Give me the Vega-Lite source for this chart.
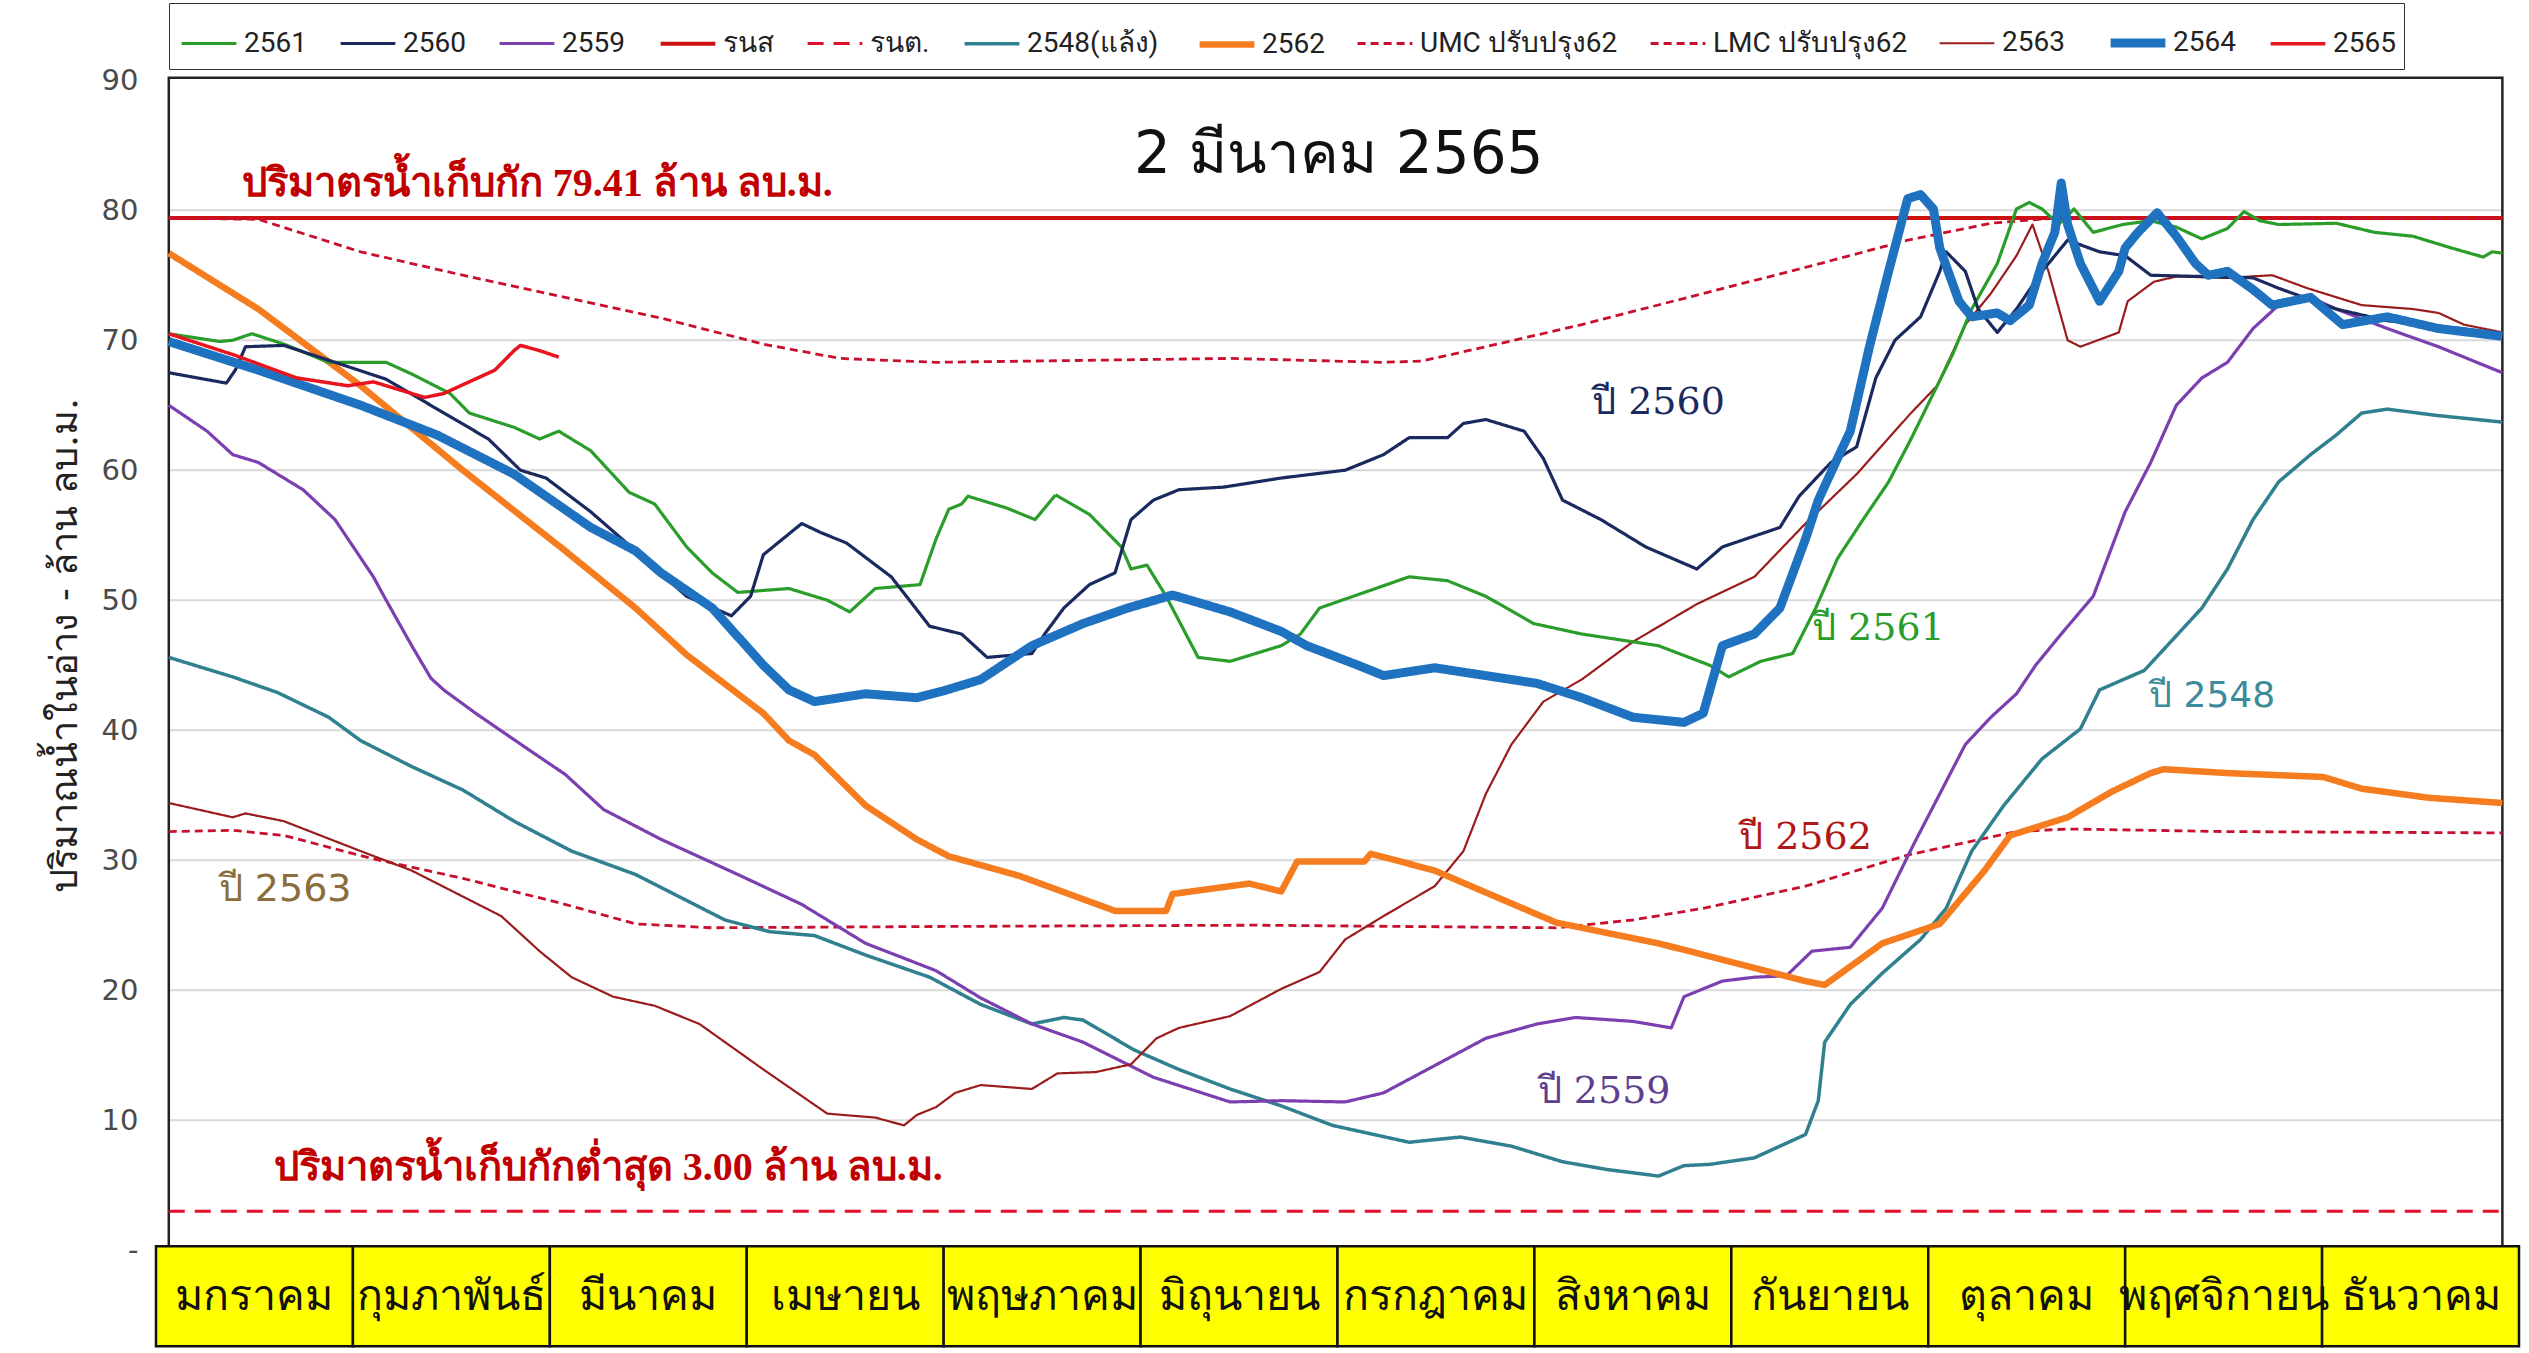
{
  "$schema": "https://vega.github.io/schema/vega-lite/v6.json",
  "width": 2363,
  "height": 1270,
  "autosize": {"type": "none"},
  "padding": {"left": 156, "top": 77, "right": 10, "bottom": 6},
  "background": "white",
  "config": {"view": {"stroke": null}},
  "resolve": {"scale": {"x": "independent"}},
  "layer": [
    {
      "layer": [
        {
          "data": {"values": [{"v": 10}, {"v": 20}, {"v": 30}, {"v": 40}, {"v": 50}, {"v": 60}, {"v": 70}, {"v": 80}]},
          "mark": {"type": "rule", "color": "#d9d9d9", "strokeWidth": 2},
          "encoding": {
            "x": {"datum": 0, "type": "quantitative", "scale": {"domain": [-2, 367.6], "nice": false, "zero": false}, "axis": null},
            "x2": {"datum": 365},
            "y": {"field": "v", "type": "quantitative", "scale": {"domain": [-7.45, 90.25], "nice": false, "zero": false},
              "axis": {"title": "ปริมาณน้ำในอ่าง - ล้าน ลบ.ม.", "values": [0, 10, 20, 30, 40, 50, 60, 70, 80, 90],
                "labelExpr": "datum.value == 0 ? '-' : datum.label", "grid": false, "domain": false, "ticks": false,
                "labelPadding": 18, "labelFont": "DejaVu Sans", "labelFontSize": 29, "labelColor": "#4a4a4a",
                "titleFont": "DejaVu Serif", "titleFontSize": 38, "titleFontWeight": "normal", "titleColor": "#222222",
                "titleX": -91, "titleY": 568, "titleAngle": -90, "titleAlign": "center", "titleBaseline": "middle"}}
          }
        },
        {
          "data": {"values": [{}]},
          "mark": {"type": "rect", "filled": false, "stroke": "#222222", "strokeWidth": 2.5},
          "encoding": {
            "x": {"datum": 0, "type": "quantitative"},
            "x2": {"datum": 365},
            "y": {"datum": 0.3, "type": "quantitative"},
            "y2": {"datum": 90.2}
          }
        },
        {
          "data": {"values": [
            {"s": "รนส", "d": 0, "v": 79.41}, {"s": "รนส", "d": 365, "v": 79.41},
            {"s": "รนต.", "d": 0, "v": 3}, {"s": "รนต.", "d": 365, "v": 3},
            {"s": "UMC ปรับปรุง62", "d": 0, "v": 79.4}, {"s": "UMC ปรับปรุง62", "d": 14, "v": 79.3}, {"s": "UMC ปรับปรุง62", "d": 30, "v": 76.8}, {"s": "UMC ปรับปรุง62", "d": 46, "v": 75.0}, {"s": "UMC ปรับปรุง62", "d": 62, "v": 73.3}, {"s": "UMC ปรับปรุง62", "d": 77, "v": 71.7}, {"s": "UMC ปรับปรุง62", "d": 93, "v": 69.7}, {"s": "UMC ปรับปรุง62", "d": 105, "v": 68.6}, {"s": "UMC ปรับปรุง62", "d": 120, "v": 68.3}, {"s": "UMC ปรับปรุง62", "d": 166, "v": 68.6}, {"s": "UMC ปรับปรุง62", "d": 190, "v": 68.3}, {"s": "UMC ปรับปรุง62", "d": 196, "v": 68.4}, {"s": "UMC ปรับปรุง62", "d": 206, "v": 69.5}, {"s": "UMC ปรับปรุง62", "d": 221, "v": 71.2}, {"s": "UMC ปรับปรุง62", "d": 240, "v": 73.6}, {"s": "UMC ปรับปรุง62", "d": 256, "v": 75.6}, {"s": "UMC ปรับปรุง62", "d": 272, "v": 77.7}, {"s": "UMC ปรับปรุง62", "d": 285, "v": 79.0}, {"s": "UMC ปรับปรุง62", "d": 295, "v": 79.4}, {"s": "UMC ปรับปรุง62", "d": 365, "v": 79.4},
            {"s": "LMC ปรับปรุง62", "d": 0, "v": 32.2}, {"s": "LMC ปรับปรุง62", "d": 10, "v": 32.3}, {"s": "LMC ปรับปรุง62", "d": 18, "v": 31.9}, {"s": "LMC ปรับปรุง62", "d": 32, "v": 30.1}, {"s": "LMC ปรับปรุง62", "d": 46, "v": 28.6}, {"s": "LMC ปรับปรุง62", "d": 62, "v": 26.6}, {"s": "LMC ปรับปรุง62", "d": 73, "v": 25.1}, {"s": "LMC ปรับปรุง62", "d": 85, "v": 24.8}, {"s": "LMC ปรับปรุง62", "d": 120, "v": 24.9}, {"s": "LMC ปรับปรุง62", "d": 170, "v": 25.0}, {"s": "LMC ปรับปรุง62", "d": 217, "v": 24.8}, {"s": "LMC ปรับปรุง62", "d": 229, "v": 25.4}, {"s": "LMC ปรับปรุง62", "d": 240, "v": 26.3}, {"s": "LMC ปรับปรุง62", "d": 256, "v": 28.0}, {"s": "LMC ปรับปรุง62", "d": 272, "v": 30.4}, {"s": "LMC ปรับปรุง62", "d": 289, "v": 32.2}, {"s": "LMC ปรับปรุง62", "d": 297, "v": 32.4}, {"s": "LMC ปรับปรุง62", "d": 322, "v": 32.2}, {"s": "LMC ปรับปรุง62", "d": 365, "v": 32.1},
            {"s": "2548(แล้ง)", "d": 0, "v": 45.6}, {"s": "2548(แล้ง)", "d": 10, "v": 44.1}, {"s": "2548(แล้ง)", "d": 17, "v": 42.9}, {"s": "2548(แล้ง)", "d": 25, "v": 41.0}, {"s": "2548(แล้ง)", "d": 30, "v": 39.2}, {"s": "2548(แล้ง)", "d": 38, "v": 37.2}, {"s": "2548(แล้ง)", "d": 46, "v": 35.4}, {"s": "2548(แล้ง)", "d": 54, "v": 33.0}, {"s": "2548(แล้ง)", "d": 63, "v": 30.7}, {"s": "2548(แล้ง)", "d": 73, "v": 28.9}, {"s": "2548(แล้ง)", "d": 81, "v": 26.9}, {"s": "2548(แล้ง)", "d": 87, "v": 25.4}, {"s": "2548(แล้ง)", "d": 94, "v": 24.5}, {"s": "2548(แล้ง)", "d": 101, "v": 24.2}, {"s": "2548(แล้ง)", "d": 109, "v": 22.7}, {"s": "2548(แล้ง)", "d": 119, "v": 21.0}, {"s": "2548(แล้ง)", "d": 127, "v": 18.9}, {"s": "2548(แล้ง)", "d": 135, "v": 17.4}, {"s": "2548(แล้ง)", "d": 140, "v": 17.9}, {"s": "2548(แล้ง)", "d": 143, "v": 17.7}, {"s": "2548(แล้ง)", "d": 151, "v": 15.4}, {"s": "2548(แล้ง)", "d": 158, "v": 13.9}, {"s": "2548(แล้ง)", "d": 166, "v": 12.4}, {"s": "2548(แล้ง)", "d": 174, "v": 11.1}, {"s": "2548(แล้ง)", "d": 182, "v": 9.6}, {"s": "2548(แล้ง)", "d": 194, "v": 8.3}, {"s": "2548(แล้ง)", "d": 202, "v": 8.7}, {"s": "2548(แล้ง)", "d": 210, "v": 8.0}, {"s": "2548(แล้ง)", "d": 218, "v": 6.8}, {"s": "2548(แล้ง)", "d": 225, "v": 6.2}, {"s": "2548(แล้ง)", "d": 233, "v": 5.7}, {"s": "2548(แล้ง)", "d": 237, "v": 6.5}, {"s": "2548(แล้ง)", "d": 241, "v": 6.6}, {"s": "2548(แล้ง)", "d": 248, "v": 7.1}, {"s": "2548(แล้ง)", "d": 256, "v": 8.9}, {"s": "2548(แล้ง)", "d": 258, "v": 11.5}, {"s": "2548(แล้ง)", "d": 259, "v": 16.0}, {"s": "2548(แล้ง)", "d": 263, "v": 18.9}, {"s": "2548(แล้ง)", "d": 268, "v": 21.3}, {"s": "2548(แล้ง)", "d": 274, "v": 23.9}, {"s": "2548(แล้ง)", "d": 278, "v": 26.3}, {"s": "2548(แล้ง)", "d": 282, "v": 30.7}, {"s": "2548(แล้ง)", "d": 287, "v": 34.2}, {"s": "2548(แล้ง)", "d": 293, "v": 37.8}, {"s": "2548(แล้ง)", "d": 299, "v": 40.1}, {"s": "2548(แล้ง)", "d": 302, "v": 43.1}, {"s": "2548(แล้ง)", "d": 309, "v": 44.6}, {"s": "2548(แล้ง)", "d": 318, "v": 49.4}, {"s": "2548(แล้ง)", "d": 322, "v": 52.4}, {"s": "2548(แล้ง)", "d": 326, "v": 56.2}, {"s": "2548(แล้ง)", "d": 330, "v": 59.1}, {"s": "2548(แล้ง)", "d": 335, "v": 61.2}, {"s": "2548(แล้ง)", "d": 339, "v": 62.7}, {"s": "2548(แล้ง)", "d": 343, "v": 64.4}, {"s": "2548(แล้ง)", "d": 347, "v": 64.7}, {"s": "2548(แล้ง)", "d": 355, "v": 64.2}, {"s": "2548(แล้ง)", "d": 365, "v": 63.7},
            {"s": "2559", "d": 0, "v": 65.0}, {"s": "2559", "d": 6, "v": 63.0}, {"s": "2559", "d": 10, "v": 61.2}, {"s": "2559", "d": 14, "v": 60.6}, {"s": "2559", "d": 21, "v": 58.5}, {"s": "2559", "d": 26, "v": 56.2}, {"s": "2559", "d": 32, "v": 51.8}, {"s": "2559", "d": 34, "v": 50.0}, {"s": "2559", "d": 38, "v": 46.5}, {"s": "2559", "d": 41, "v": 44.0}, {"s": "2559", "d": 43, "v": 43.1}, {"s": "2559", "d": 48, "v": 41.3}, {"s": "2559", "d": 56, "v": 38.6}, {"s": "2559", "d": 62, "v": 36.6}, {"s": "2559", "d": 68, "v": 33.9}, {"s": "2559", "d": 77, "v": 31.6}, {"s": "2559", "d": 89, "v": 28.9}, {"s": "2559", "d": 99, "v": 26.6}, {"s": "2559", "d": 109, "v": 23.6}, {"s": "2559", "d": 120, "v": 21.5}, {"s": "2559", "d": 127, "v": 19.4}, {"s": "2559", "d": 135, "v": 17.4}, {"s": "2559", "d": 143, "v": 16.0}, {"s": "2559", "d": 154, "v": 13.3}, {"s": "2559", "d": 166, "v": 11.4}, {"s": "2559", "d": 174, "v": 11.5}, {"s": "2559", "d": 184, "v": 11.4}, {"s": "2559", "d": 190, "v": 12.1}, {"s": "2559", "d": 198, "v": 14.2}, {"s": "2559", "d": 206, "v": 16.3}, {"s": "2559", "d": 214, "v": 17.4}, {"s": "2559", "d": 220, "v": 17.9}, {"s": "2559", "d": 229, "v": 17.6}, {"s": "2559", "d": 235, "v": 17.1}, {"s": "2559", "d": 237, "v": 19.5}, {"s": "2559", "d": 243, "v": 20.7}, {"s": "2559", "d": 248, "v": 21.0}, {"s": "2559", "d": 253, "v": 21.1}, {"s": "2559", "d": 257, "v": 23.0}, {"s": "2559", "d": 263, "v": 23.3}, {"s": "2559", "d": 268, "v": 26.3}, {"s": "2559", "d": 273, "v": 31.3}, {"s": "2559", "d": 277, "v": 35.1}, {"s": "2559", "d": 281, "v": 38.9}, {"s": "2559", "d": 285, "v": 41.0}, {"s": "2559", "d": 289, "v": 42.8}, {"s": "2559", "d": 292, "v": 45.0}, {"s": "2559", "d": 296, "v": 47.4}, {"s": "2559", "d": 301, "v": 50.3}, {"s": "2559", "d": 306, "v": 56.8}, {"s": "2559", "d": 310, "v": 60.6}, {"s": "2559", "d": 314, "v": 65.0}, {"s": "2559", "d": 318, "v": 67.1}, {"s": "2559", "d": 322, "v": 68.3}, {"s": "2559", "d": 326, "v": 70.9}, {"s": "2559", "d": 330, "v": 72.7}, {"s": "2559", "d": 335, "v": 73.3}, {"s": "2559", "d": 339, "v": 72.4}, {"s": "2559", "d": 347, "v": 70.9}, {"s": "2559", "d": 355, "v": 69.5}, {"s": "2559", "d": 365, "v": 67.5},
            {"s": "2563", "d": 0, "v": 34.4}, {"s": "2563", "d": 10, "v": 33.3}, {"s": "2563", "d": 12, "v": 33.6}, {"s": "2563", "d": 18, "v": 33.0}, {"s": "2563", "d": 30, "v": 30.7}, {"s": "2563", "d": 38, "v": 29.2}, {"s": "2563", "d": 46, "v": 27.2}, {"s": "2563", "d": 52, "v": 25.7}, {"s": "2563", "d": 58, "v": 23.0}, {"s": "2563", "d": 63, "v": 21.0}, {"s": "2563", "d": 69.5, "v": 19.5}, {"s": "2563", "d": 76, "v": 18.8}, {"s": "2563", "d": 83, "v": 17.4}, {"s": "2563", "d": 93, "v": 13.9}, {"s": "2563", "d": 103, "v": 10.5}, {"s": "2563", "d": 110.5, "v": 10.2}, {"s": "2563", "d": 115, "v": 9.6}, {"s": "2563", "d": 117, "v": 10.4}, {"s": "2563", "d": 120, "v": 11.0}, {"s": "2563", "d": 123, "v": 12.1}, {"s": "2563", "d": 127, "v": 12.7}, {"s": "2563", "d": 135, "v": 12.4}, {"s": "2563", "d": 139, "v": 13.6}, {"s": "2563", "d": 145, "v": 13.7}, {"s": "2563", "d": 150.5, "v": 14.3}, {"s": "2563", "d": 154.5, "v": 16.3}, {"s": "2563", "d": 158, "v": 17.1}, {"s": "2563", "d": 166, "v": 18.0}, {"s": "2563", "d": 174, "v": 20.1}, {"s": "2563", "d": 180, "v": 21.4}, {"s": "2563", "d": 184, "v": 23.9}, {"s": "2563", "d": 190, "v": 25.7}, {"s": "2563", "d": 198, "v": 28.0}, {"s": "2563", "d": 202.5, "v": 30.7}, {"s": "2563", "d": 206, "v": 35.1}, {"s": "2563", "d": 210, "v": 38.9}, {"s": "2563", "d": 215, "v": 42.2}, {"s": "2563", "d": 221, "v": 43.9}, {"s": "2563", "d": 229, "v": 46.8}, {"s": "2563", "d": 239, "v": 49.7}, {"s": "2563", "d": 248, "v": 51.8}, {"s": "2563", "d": 256, "v": 55.9}, {"s": "2563", "d": 264, "v": 59.7}, {"s": "2563", "d": 272.5, "v": 64.4}, {"s": "2563", "d": 276.6, "v": 66.5}, {"s": "2563", "d": 281, "v": 71.2}, {"s": "2563", "d": 285, "v": 73.6}, {"s": "2563", "d": 289, "v": 76.5}, {"s": "2563", "d": 291.5, "v": 78.9}, {"s": "2563", "d": 294, "v": 75.3}, {"s": "2563", "d": 297, "v": 70.0}, {"s": "2563", "d": 299, "v": 69.5}, {"s": "2563", "d": 305, "v": 70.6}, {"s": "2563", "d": 306.4, "v": 73.0}, {"s": "2563", "d": 310.5, "v": 74.5}, {"s": "2563", "d": 314, "v": 74.9}, {"s": "2563", "d": 322, "v": 74.8}, {"s": "2563", "d": 329, "v": 75.0}, {"s": "2563", "d": 334.5, "v": 74.0}, {"s": "2563", "d": 343, "v": 72.7}, {"s": "2563", "d": 351, "v": 72.4}, {"s": "2563", "d": 355, "v": 72.1}, {"s": "2563", "d": 359, "v": 71.2}, {"s": "2563", "d": 365, "v": 70.6},
            {"s": "2562", "d": 0, "v": 76.7}, {"s": "2562", "d": 14, "v": 72.4}, {"s": "2562", "d": 30, "v": 66.5}, {"s": "2562", "d": 46, "v": 60.0}, {"s": "2562", "d": 62, "v": 53.8}, {"s": "2562", "d": 73, "v": 49.4}, {"s": "2562", "d": 81, "v": 45.8}, {"s": "2562", "d": 93, "v": 41.3}, {"s": "2562", "d": 97, "v": 39.2}, {"s": "2562", "d": 101, "v": 38.1}, {"s": "2562", "d": 109, "v": 34.2}, {"s": "2562", "d": 117, "v": 31.6}, {"s": "2562", "d": 122, "v": 30.3}, {"s": "2562", "d": 133, "v": 28.8}, {"s": "2562", "d": 148, "v": 26.1}, {"s": "2562", "d": 156, "v": 26.1}, {"s": "2562", "d": 157, "v": 27.4}, {"s": "2562", "d": 169, "v": 28.2}, {"s": "2562", "d": 174, "v": 27.6}, {"s": "2562", "d": 176.5, "v": 29.9}, {"s": "2562", "d": 187, "v": 29.9}, {"s": "2562", "d": 188, "v": 30.5}, {"s": "2562", "d": 198, "v": 29.2}, {"s": "2562", "d": 217, "v": 25.2}, {"s": "2562", "d": 233, "v": 23.6}, {"s": "2562", "d": 241, "v": 22.6}, {"s": "2562", "d": 256, "v": 20.7}, {"s": "2562", "d": 259, "v": 20.4}, {"s": "2562", "d": 268, "v": 23.6}, {"s": "2562", "d": 277, "v": 25.1}, {"s": "2562", "d": 284, "v": 29.2}, {"s": "2562", "d": 288, "v": 31.9}, {"s": "2562", "d": 297, "v": 33.3}, {"s": "2562", "d": 304, "v": 35.3}, {"s": "2562", "d": 310, "v": 36.7}, {"s": "2562", "d": 312, "v": 37.0}, {"s": "2562", "d": 322, "v": 36.7}, {"s": "2562", "d": 337, "v": 36.4}, {"s": "2562", "d": 343, "v": 35.5}, {"s": "2562", "d": 353.5, "v": 34.8}, {"s": "2562", "d": 365, "v": 34.4},
            {"s": "2561", "d": 0, "v": 70.5}, {"s": "2561", "d": 8, "v": 69.9}, {"s": "2561", "d": 10, "v": 70.0}, {"s": "2561", "d": 13, "v": 70.5}, {"s": "2561", "d": 18, "v": 69.7}, {"s": "2561", "d": 25, "v": 68.3}, {"s": "2561", "d": 34, "v": 68.3}, {"s": "2561", "d": 38, "v": 67.4}, {"s": "2561", "d": 44, "v": 65.9}, {"s": "2561", "d": 47, "v": 64.4}, {"s": "2561", "d": 54, "v": 63.3}, {"s": "2561", "d": 58, "v": 62.4}, {"s": "2561", "d": 61, "v": 63.0}, {"s": "2561", "d": 66, "v": 61.5}, {"s": "2561", "d": 72, "v": 58.3}, {"s": "2561", "d": 76, "v": 57.4}, {"s": "2561", "d": 81, "v": 54.1}, {"s": "2561", "d": 85, "v": 52.1}, {"s": "2561", "d": 89, "v": 50.6}, {"s": "2561", "d": 97, "v": 50.9}, {"s": "2561", "d": 103, "v": 50.0}, {"s": "2561", "d": 106.5, "v": 49.1}, {"s": "2561", "d": 110.5, "v": 50.9}, {"s": "2561", "d": 117.5, "v": 51.2}, {"s": "2561", "d": 120, "v": 54.7}, {"s": "2561", "d": 122, "v": 57.0}, {"s": "2561", "d": 124, "v": 57.4}, {"s": "2561", "d": 125, "v": 58.0}, {"s": "2561", "d": 131, "v": 57.1}, {"s": "2561", "d": 135.5, "v": 56.2}, {"s": "2561", "d": 138.7, "v": 58.1}, {"s": "2561", "d": 144, "v": 56.6}, {"s": "2561", "d": 149, "v": 54.1}, {"s": "2561", "d": 150.5, "v": 52.4}, {"s": "2561", "d": 153, "v": 52.7}, {"s": "2561", "d": 156, "v": 50.3}, {"s": "2561", "d": 161, "v": 45.6}, {"s": "2561", "d": 166, "v": 45.3}, {"s": "2561", "d": 174, "v": 46.5}, {"s": "2561", "d": 177, "v": 47.4}, {"s": "2561", "d": 180, "v": 49.4}, {"s": "2561", "d": 187, "v": 50.6}, {"s": "2561", "d": 194, "v": 51.8}, {"s": "2561", "d": 200, "v": 51.5}, {"s": "2561", "d": 206, "v": 50.3}, {"s": "2561", "d": 213.5, "v": 48.2}, {"s": "2561", "d": 221, "v": 47.4}, {"s": "2561", "d": 233, "v": 46.5}, {"s": "2561", "d": 241, "v": 45.0}, {"s": "2561", "d": 244, "v": 44.1}, {"s": "2561", "d": 249, "v": 45.3}, {"s": "2561", "d": 254, "v": 45.9}, {"s": "2561", "d": 257.6, "v": 49.4}, {"s": "2561", "d": 261, "v": 53.2}, {"s": "2561", "d": 265, "v": 56.2}, {"s": "2561", "d": 269, "v": 59.1}, {"s": "2561", "d": 272.5, "v": 62.4}, {"s": "2561", "d": 276, "v": 65.9}, {"s": "2561", "d": 279, "v": 68.9}, {"s": "2561", "d": 282, "v": 72.4}, {"s": "2561", "d": 286, "v": 75.9}, {"s": "2561", "d": 289, "v": 80.1}, {"s": "2561", "d": 291, "v": 80.6}, {"s": "2561", "d": 293, "v": 80.1}, {"s": "2561", "d": 295.6, "v": 78.9}, {"s": "2561", "d": 298, "v": 80.1}, {"s": "2561", "d": 301, "v": 78.3}, {"s": "2561", "d": 305.6, "v": 78.9}, {"s": "2561", "d": 310, "v": 79.2}, {"s": "2561", "d": 314, "v": 78.7}, {"s": "2561", "d": 318, "v": 77.8}, {"s": "2561", "d": 322, "v": 78.6}, {"s": "2561", "d": 324.6, "v": 79.9}, {"s": "2561", "d": 327, "v": 79.2}, {"s": "2561", "d": 330, "v": 78.9}, {"s": "2561", "d": 339, "v": 79.0}, {"s": "2561", "d": 345, "v": 78.3}, {"s": "2561", "d": 351, "v": 78.0}, {"s": "2561", "d": 357, "v": 77.1}, {"s": "2561", "d": 362, "v": 76.4}, {"s": "2561", "d": 363.4, "v": 76.8}, {"s": "2561", "d": 365, "v": 76.7},
            {"s": "2560", "d": 0, "v": 67.5}, {"s": "2560", "d": 9, "v": 66.7}, {"s": "2560", "d": 10.4, "v": 67.7}, {"s": "2560", "d": 12, "v": 69.5}, {"s": "2560", "d": 18, "v": 69.6}, {"s": "2560", "d": 26, "v": 68.3}, {"s": "2560", "d": 34, "v": 67.0}, {"s": "2560", "d": 42, "v": 64.7}, {"s": "2560", "d": 50, "v": 62.4}, {"s": "2560", "d": 55, "v": 60.0}, {"s": "2560", "d": 59, "v": 59.4}, {"s": "2560", "d": 66, "v": 56.8}, {"s": "2560", "d": 73, "v": 53.8}, {"s": "2560", "d": 81, "v": 50.3}, {"s": "2560", "d": 88, "v": 48.8}, {"s": "2560", "d": 91, "v": 50.3}, {"s": "2560", "d": 93, "v": 53.5}, {"s": "2560", "d": 96, "v": 54.7}, {"s": "2560", "d": 99, "v": 55.9}, {"s": "2560", "d": 102, "v": 55.2}, {"s": "2560", "d": 106, "v": 54.4}, {"s": "2560", "d": 113, "v": 51.8}, {"s": "2560", "d": 119, "v": 48.0}, {"s": "2560", "d": 124, "v": 47.4}, {"s": "2560", "d": 128, "v": 45.6}, {"s": "2560", "d": 135, "v": 45.9}, {"s": "2560", "d": 137, "v": 47.4}, {"s": "2560", "d": 140, "v": 49.4}, {"s": "2560", "d": 144, "v": 51.2}, {"s": "2560", "d": 148, "v": 52.1}, {"s": "2560", "d": 150.5, "v": 56.2}, {"s": "2560", "d": 154, "v": 57.7}, {"s": "2560", "d": 158, "v": 58.5}, {"s": "2560", "d": 165, "v": 58.7}, {"s": "2560", "d": 174, "v": 59.4}, {"s": "2560", "d": 184, "v": 60.0}, {"s": "2560", "d": 190, "v": 61.2}, {"s": "2560", "d": 194, "v": 62.5}, {"s": "2560", "d": 200, "v": 62.5}, {"s": "2560", "d": 202.5, "v": 63.6}, {"s": "2560", "d": 206, "v": 63.9}, {"s": "2560", "d": 212, "v": 63.0}, {"s": "2560", "d": 215, "v": 60.9}, {"s": "2560", "d": 218, "v": 57.7}, {"s": "2560", "d": 224, "v": 56.2}, {"s": "2560", "d": 231, "v": 54.1}, {"s": "2560", "d": 239, "v": 52.4}, {"s": "2560", "d": 243, "v": 54.1}, {"s": "2560", "d": 252, "v": 55.6}, {"s": "2560", "d": 255, "v": 58.0}, {"s": "2560", "d": 260, "v": 60.6}, {"s": "2560", "d": 264, "v": 61.8}, {"s": "2560", "d": 267, "v": 67.1}, {"s": "2560", "d": 270, "v": 70.0}, {"s": "2560", "d": 274, "v": 71.8}, {"s": "2560", "d": 277, "v": 75.3}, {"s": "2560", "d": 278, "v": 76.8}, {"s": "2560", "d": 281, "v": 75.3}, {"s": "2560", "d": 283, "v": 72.4}, {"s": "2560", "d": 286, "v": 70.6}, {"s": "2560", "d": 289, "v": 72.4}, {"s": "2560", "d": 293, "v": 75.3}, {"s": "2560", "d": 297, "v": 77.7}, {"s": "2560", "d": 302, "v": 76.8}, {"s": "2560", "d": 306, "v": 76.5}, {"s": "2560", "d": 310, "v": 75.0}, {"s": "2560", "d": 318, "v": 74.9}, {"s": "2560", "d": 326, "v": 74.8}, {"s": "2560", "d": 330, "v": 74.0}, {"s": "2560", "d": 339, "v": 72.4}, {"s": "2560", "d": 347, "v": 71.5}, {"s": "2560", "d": 355, "v": 71.1}, {"s": "2560", "d": 365, "v": 70.5},
            {"s": "2564", "d": 0, "v": 69.9}, {"s": "2564", "d": 14, "v": 67.7}, {"s": "2564", "d": 30, "v": 65.0}, {"s": "2564", "d": 42, "v": 62.7}, {"s": "2564", "d": 54, "v": 59.7}, {"s": "2564", "d": 66, "v": 55.6}, {"s": "2564", "d": 73, "v": 53.8}, {"s": "2564", "d": 77, "v": 52.1}, {"s": "2564", "d": 85, "v": 49.4}, {"s": "2564", "d": 93, "v": 45.0}, {"s": "2564", "d": 97, "v": 43.1}, {"s": "2564", "d": 101, "v": 42.2}, {"s": "2564", "d": 109, "v": 42.8}, {"s": "2564", "d": 117, "v": 42.5}, {"s": "2564", "d": 121, "v": 43.0}, {"s": "2564", "d": 127, "v": 43.9}, {"s": "2564", "d": 135, "v": 46.5}, {"s": "2564", "d": 143, "v": 48.2}, {"s": "2564", "d": 150, "v": 49.4}, {"s": "2564", "d": 157, "v": 50.4}, {"s": "2564", "d": 166, "v": 49.1}, {"s": "2564", "d": 174, "v": 47.6}, {"s": "2564", "d": 178, "v": 46.5}, {"s": "2564", "d": 186, "v": 45.0}, {"s": "2564", "d": 190, "v": 44.2}, {"s": "2564", "d": 198, "v": 44.8}, {"s": "2564", "d": 206, "v": 44.2}, {"s": "2564", "d": 214, "v": 43.6}, {"s": "2564", "d": 221, "v": 42.5}, {"s": "2564", "d": 229, "v": 41.0}, {"s": "2564", "d": 237, "v": 40.6}, {"s": "2564", "d": 240, "v": 41.3}, {"s": "2564", "d": 243, "v": 46.5}, {"s": "2564", "d": 248, "v": 47.4}, {"s": "2564", "d": 252, "v": 49.4}, {"s": "2564", "d": 256, "v": 54.7}, {"s": "2564", "d": 258, "v": 57.7}, {"s": "2564", "d": 261, "v": 60.9}, {"s": "2564", "d": 263, "v": 63.0}, {"s": "2564", "d": 266, "v": 69.5}, {"s": "2564", "d": 269, "v": 75.3}, {"s": "2564", "d": 272, "v": 80.9}, {"s": "2564", "d": 274, "v": 81.2}, {"s": "2564", "d": 276, "v": 80.1}, {"s": "2564", "d": 277, "v": 77.1}, {"s": "2564", "d": 280, "v": 73.0}, {"s": "2564", "d": 282, "v": 71.8}, {"s": "2564", "d": 286, "v": 72.1}, {"s": "2564", "d": 288, "v": 71.5}, {"s": "2564", "d": 291, "v": 72.7}, {"s": "2564", "d": 293, "v": 75.9}, {"s": "2564", "d": 295, "v": 78.3}, {"s": "2564", "d": 296, "v": 82.1}, {"s": "2564", "d": 297, "v": 78.9}, {"s": "2564", "d": 299, "v": 75.9}, {"s": "2564", "d": 302, "v": 73.0}, {"s": "2564", "d": 305, "v": 75.3}, {"s": "2564", "d": 306, "v": 77.1}, {"s": "2564", "d": 308, "v": 78.3}, {"s": "2564", "d": 311, "v": 79.8}, {"s": "2564", "d": 314, "v": 78.0}, {"s": "2564", "d": 317, "v": 75.9}, {"s": "2564", "d": 319, "v": 75.0}, {"s": "2564", "d": 322, "v": 75.3}, {"s": "2564", "d": 326, "v": 73.9}, {"s": "2564", "d": 329, "v": 72.7}, {"s": "2564", "d": 335, "v": 73.3}, {"s": "2564", "d": 340, "v": 71.2}, {"s": "2564", "d": 347, "v": 71.8}, {"s": "2564", "d": 355, "v": 70.9}, {"s": "2564", "d": 365, "v": 70.3},
            {"s": "2565", "d": 0, "v": 70.5}, {"s": "2565", "d": 10, "v": 68.9}, {"s": "2565", "d": 20, "v": 67.1}, {"s": "2565", "d": 28, "v": 66.5}, {"s": "2565", "d": 32, "v": 66.8}, {"s": "2565", "d": 40, "v": 65.6}, {"s": "2565", "d": 43, "v": 65.9}, {"s": "2565", "d": 47, "v": 66.8}, {"s": "2565", "d": 51, "v": 67.7}, {"s": "2565", "d": 54, "v": 69.2}, {"s": "2565", "d": 55, "v": 69.6}, {"s": "2565", "d": 58, "v": 69.2}, {"s": "2565", "d": 61, "v": 68.7}
          ]},
          "mark": {"type": "line", "strokeJoin": "round", "strokeCap": "butt"},
          "encoding": {
            "x": {"field": "d", "type": "quantitative"},
            "y": {"field": "v", "type": "quantitative"},
            "color": {"field": "s", "type": "nominal",
              "scale": {"domain": ["2561", "2560", "2559", "รนส", "รนต.", "2548(แล้ง)", "2562", "UMC ปรับปรุง62", "LMC ปรับปรุง62", "2563", "2564", "2565"],
                "range": ["#2a9d2a", "#1b2a5e", "#7b3fb0", "#cc1111", "#e0102a", "#31808f", "#f57c1f", "#c8102e", "#c8102e", "#9b1c1c", "#1f72c0", "#e8141e"]},
              "legend": {"orient": "none", "legendX": 13, "legendY": -74, "direction": "horizontal", "columns": 12, "title": null,
                "labelFont": "Roboto", "labelFontSize": 28, "labelColor": "#222222", "labelLimit": 400,
                "symbolType": "stroke", "symbolSize": 3000, "symbolOffset": 0, "labelOffset": 3,
                "strokeColor": "#333333", "fillColor": "white", "padding": 8, "columnPadding": 27}},
            "strokeDash": {"field": "s", "type": "nominal",
              "scale": {"domain": ["2561", "2560", "2559", "รนส", "รนต.", "2548(แล้ง)", "2562", "UMC ปรับปรุง62", "LMC ปรับปรุง62", "2563", "2564", "2565"],
                "range": [[1, 0], [1, 0], [1, 0], [1, 0], [16, 10], [1, 0], [1, 0], [8, 5], [8, 5], [1, 0], [1, 0], [1, 0]]}},
            "strokeWidth": {"field": "s", "type": "nominal",
              "scale": {"type": "ordinal", "domain": ["2561", "2560", "2559", "รนส", "รนต.", "2548(แล้ง)", "2562", "UMC ปรับปรุง62", "LMC ปรับปรุง62", "2563", "2564", "2565"],
                "range": [3.2, 3.2, 3.2, 4, 3, 3.5, 6.5, 2.8, 2.8, 2.2, 9, 3.5]}}
          }
        },
        {
          "data": {"values": [{"t": "2 มีนาคม 2565", "d": 183, "v": 84.2}]},
          "mark": {"type": "text", "font": "DejaVu Sans", "fontSize": 58, "color": "#111111", "align": "center", "baseline": "middle"},
          "encoding": {"x": {"field": "d", "type": "quantitative"}, "y": {"field": "v", "type": "quantitative"}, "text": {"field": "t"}}
        },
        {
          "data": {"values": [{"t": "ปริมาตรน้ำเก็บกัก 79.41 ล้าน ลบ.ม.", "d": 11.4, "v": 82.0}, {"t": "ปริมาตรน้ำเก็บกักต่ำสุด 3.00 ล้าน ลบ.ม.", "d": 16.4, "v": 6.3}]},
          "mark": {"type": "text", "font": "Liberation Serif", "fontSize": 40, "fontWeight": "bold", "color": "#c00000", "align": "left", "baseline": "middle"},
          "encoding": {"x": {"field": "d", "type": "quantitative"}, "y": {"field": "v", "type": "quantitative"}, "text": {"field": "t"}}
        },
        {
          "data": {"values": [{"t": "ปี 2560", "d": 233, "v": 65.2}]},
          "mark": {"type": "text", "font": "DejaVu Serif", "fontSize": 38, "color": "#1b2a5e", "align": "center", "baseline": "middle"},
          "encoding": {"x": {"field": "d", "type": "quantitative"}, "y": {"field": "v", "type": "quantitative"}, "text": {"field": "t"}}
        },
        {
          "data": {"values": [{"t": "ปี 2561", "d": 267.4, "v": 47.8}]},
          "mark": {"type": "text", "font": "DejaVu Serif", "fontSize": 38, "color": "#2a9d2a", "align": "center", "baseline": "middle"},
          "encoding": {"x": {"field": "d", "type": "quantitative"}, "y": {"field": "v", "type": "quantitative"}, "text": {"field": "t"}}
        },
        {
          "data": {"values": [{"t": "ปี 2548", "d": 319.6, "v": 42.6}]},
          "mark": {"type": "text", "font": "DejaVu Sans", "fontSize": 36, "color": "#3d8a99", "align": "center", "baseline": "middle"},
          "encoding": {"x": {"field": "d", "type": "quantitative"}, "y": {"field": "v", "type": "quantitative"}, "text": {"field": "t"}}
        },
        {
          "data": {"values": [{"t": "ปี 2562", "d": 256, "v": 31.7}]},
          "mark": {"type": "text", "font": "DejaVu Serif", "fontSize": 38, "color": "#b01818", "align": "center", "baseline": "middle"},
          "encoding": {"x": {"field": "d", "type": "quantitative"}, "y": {"field": "v", "type": "quantitative"}, "text": {"field": "t"}}
        },
        {
          "data": {"values": [{"t": "ปี 2563", "d": 18.2, "v": 27.7}]},
          "mark": {"type": "text", "font": "DejaVu Sans", "fontSize": 38, "color": "#8a6d3b", "align": "center", "baseline": "middle"},
          "encoding": {"x": {"field": "d", "type": "quantitative"}, "y": {"field": "v", "type": "quantitative"}, "text": {"field": "t"}}
        },
        {
          "data": {"values": [{"t": "ปี 2559", "d": 224.5, "v": 12.2}]},
          "mark": {"type": "text", "font": "DejaVu Serif", "fontSize": 38, "color": "#5e3f8f", "align": "center", "baseline": "middle"},
          "encoding": {"x": {"field": "d", "type": "quantitative"}, "y": {"field": "v", "type": "quantitative"}, "text": {"field": "t"}}
        }
      ]
    },
    {
      "data": {"values": [{"m": "มกราคม"}, {"m": "กุมภาพันธ์"}, {"m": "มีนาคม"}, {"m": "เมษายน"}, {"m": "พฤษภาคม"}, {"m": "มิถุนายน"}, {"m": "กรกฎาคม"}, {"m": "สิงหาคม"}, {"m": "กันยายน"}, {"m": "ตุลาคม"}, {"m": "พฤศจิกายน"}, {"m": "ธันวาคม"}]},
      "layer": [
        {
          "mark": {"type": "rect", "fill": "#ffff00", "stroke": "#111111", "strokeWidth": 2.5},
          "encoding": {
            "x": {"field": "m", "type": "nominal", "sort": null, "scale": {"paddingInner": 0, "paddingOuter": 0}, "axis": null},
            "y": {"datum": -7.4, "type": "quantitative"},
            "y2": {"datum": 0.3}
          }
        },
        {
          "mark": {"type": "text", "font": "DejaVu Sans", "fontSize": 43, "color": "#111111", "align": "center", "baseline": "middle"},
          "encoding": {
            "x": {"field": "m", "type": "nominal", "sort": null, "axis": null},
            "y": {"datum": -3.6, "type": "quantitative"},
            "text": {"field": "m"}
          }
        }
      ]
    }
  ]
}
